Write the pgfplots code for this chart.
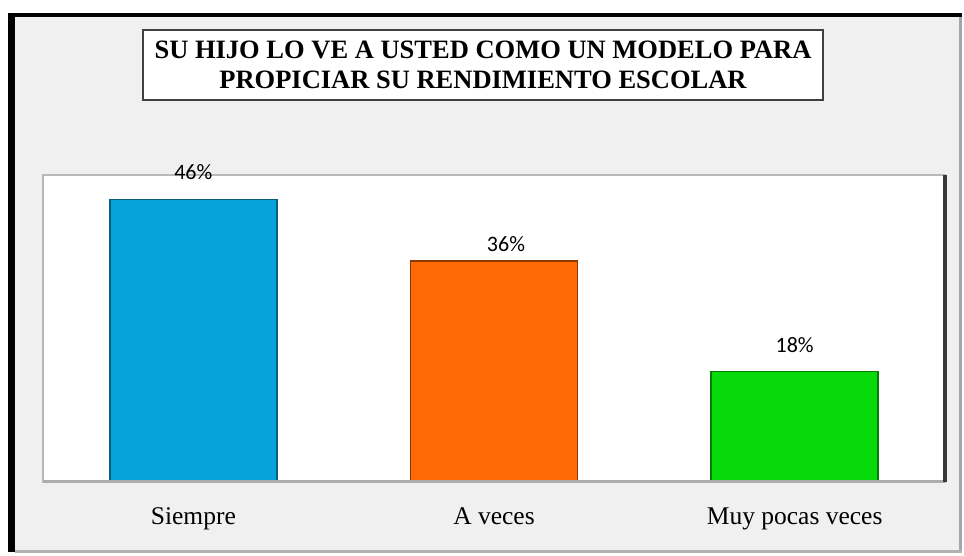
\documentclass[border=0pt]{standalone}
\usepackage{pgfplots}
\pgfplotsset{compat=1.18}
\usepackage{fontspec}
\setmainfont{Liberation Serif}
\newfontfamily\calib{Carlito}
\definecolor{bgtex}{HTML}{F0F0F0}
\definecolor{cblue}{HTML}{06A3D9}
\definecolor{cblueD}{HTML}{0A5C7E}
\definecolor{corange}{HTML}{FF6A06}
\definecolor{corangeD}{HTML}{8A3A04}
\definecolor{cgreen}{HTML}{07D90A}
\definecolor{cgreenD}{HTML}{067A08}
\begin{document}
\begin{tikzpicture}[x=1pt,y=1pt]
\useasboundingbox (0,0) rectangle (964,556);
\fill[white] (0,0) rectangle (964,556);
\fill[bgtex] (15,4) rectangle (962,539);
\fill[black] (8,539) rectangle (962,543);
\fill[black] (8,4) rectangle (15,543);
\fill[gray!70] (959,4) rectangle (962,539);
\fill[gray!60] (15,3) rectangle (962,6);
% title
\node[draw=black!75, line width=1.5pt, fill=white, minimum width=680pt, minimum height=70pt,
  align=center, font=\fontsize{26.5}{30}\selectfont\bfseries, inner sep=0pt] at (483,491)
  {SU HIJO LO VE A USTED COMO UN MODELO PARA\\PROPICIAR SU RENDIMIENTO ESCOLAR};
\begin{axis}[
  name=ax,
  at={(43pt,74pt)}, anchor=south west,
  width=902pt, height=307pt, scale only axis,
  xmin=-0.5, xmax=2.5, ymin=0, ymax=50,
  axis background/.style={fill=white, draw=gray!55, line width=1.2pt},
  ytick=\empty, axis y line=none,
  axis x line=none,
  xtick={0,1,2}, xticklabels={Siempre, A veces, Muy pocas veces},
  major tick length=0pt,
  /pgf/number format/assume math mode=true,
  ybar, bar width=167pt, bar shift=0pt,
  nodes near coords={\pgfmathprintnumber{\pgfplotspointmeta}\%},
  every node near coord/.append style={font=\calib\fontsize{22}{26}\selectfont, color=black, anchor=base},
  clip=false,
]
\addplot[fill=cblue, draw=cblueD, line width=1.5pt,
  every node near coord/.append style={yshift=20pt}] coordinates {(0,46)};
\addplot[fill=corange, draw=corangeD, line width=1.5pt,
  every node near coord/.append style={yshift=9pt, xshift=12pt}] coordinates {(1,36)};
\addplot[fill=cgreen, draw=cgreenD, line width=1.5pt,
  every node near coord/.append style={yshift=19pt}] coordinates {(2,18)};
\node[font=\fontsize{25.5}{30}\selectfont, anchor=base] at (axis cs:0,0) [yshift=-43pt] {Siempre};
\node[font=\fontsize{25.5}{30}\selectfont, anchor=base] at (axis cs:1,0) [yshift=-43pt] {A veces};
\node[font=\fontsize{25.5}{30}\selectfont, anchor=base] at (axis cs:2,0) [yshift=-43pt] {Muy pocas veces};
\end{axis}
\draw[gray!65, line width=3pt] (ax.south west) -- (ax.south east);
\draw[gray!45!black, line width=3.5pt] (ax.south east) -- (ax.north east);
\end{tikzpicture}
\end{document}
